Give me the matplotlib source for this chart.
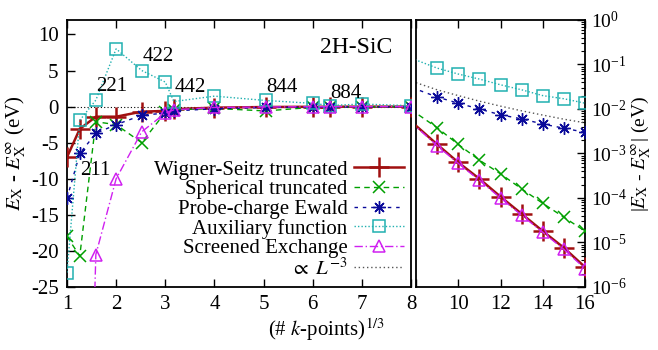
import numpy as np
import matplotlib
matplotlib.use("Agg")
import matplotlib.pyplot as plt
from matplotlib.ticker import LogLocator, NullFormatter

plt.rcParams['font.family'] = ['Liberation Serif', 'DejaVu Serif']
plt.rcParams['mathtext.fontset'] = 'stix'
plt.rcParams['axes.unicode_minus'] = False

# (# k-points)^(1/3)
kx = [1, 1.26, 1.587, 2, 2.52, 3, 3.175, 4, 5.04, 6, 6.35, 7, 8,
      9, 10, 11, 12, 13, 14, 15, 16]

wigner_seitz = [-7.0, -3.1, -1.4, -1.4, -0.7, -0.6, -0.35, -0.15, -0.06, -0.025, -0.02, -0.01,
                -0.0042, -0.0016, -6.3e-4, -2.7e-4, -1.07e-4, -4.4e-5, -1.8e-5, -7.6e-6, -2.8e-6]
spherical = [-18.0, -20.7, -2.1, -2.5, -5.0, -0.8, -0.45, -0.25, -0.6, -0.1, -0.06, -0.03,
             -0.0081, -0.0038, -0.0016, -7.1e-4, -3.5e-4, -1.6e-4, -7.6e-5, -3.7e-5, -1.8e-5]
probe_ewald = [-12.7, -6.5, -3.7, -2.5, -1.2, -0.9, -0.6, -0.3, -0.12, -0.06, -0.05, -0.04,
               -0.028, -0.0186, -0.0135, -0.010, -0.0074, -0.006, -0.0046, -0.0037, -0.003]
auxiliary = [-23.0, -1.9, 0.9, 8.0, 5.0, 3.4, 0.7, 1.45, 0.85, 0.45, 0.15, 0.35,
             0.126, 0.083, 0.061, 0.047, 0.035, 0.027, 0.020, 0.017, 0.0135]
screened = [np.nan, -100.0, -20.5, -10.0, -3.5, -0.9, -0.45, -0.12, -0.05, -0.02, -0.015, -0.01,
            -0.0040, -0.0015, -6.0e-4, -2.5e-4, -1.0e-4, -4.1e-5, -1.7e-5, -7.0e-6, -2.6e-6]

# reference line proportional to L^-3
ref_x = [8, 9, 10, 11, 12, 13, 14, 15, 16]
ref_y = [0.039, 0.027, 0.020, 0.015, 0.0116, 0.0091, 0.0073, 0.0059, 0.0049]

labels = ["Wigner-Seitz truncated", "Spherical truncated", "Probe-charge Ewald",
          "Auxiliary function", "Screened Exchange"]
mesh_labels = ["211", "221", "422", "442", "844", "884"]
mesh_pos = [(1.27, -8.8), (1.6, 2.75), (2.53, 7.0), (3.18, 2.6), (5.05, 2.6), (6.36, 1.8)]

styles = [
    dict(color='#a01010', ls='-', lw=1.8, marker='+', ms=15, mew=1.8),
    dict(color='#00a000', ls=(0, (4, 3)), lw=1.0, marker='x', ms=8, mew=1.1),
    dict(color='#0a0a9a', ls=(0, (2.5, 3.5)), lw=1.0, marker=(8, 2, 0), ms=9, mew=1.0),
    dict(color='#20b0b0', ls=(0, (1, 1.5)), lw=1.0, marker='s', ms=8, mew=1.1, mfc='none'),
    dict(color='#d020f0', ls=(0, (6, 2, 1, 2)), lw=1.0, marker='^', ms=8, mew=1.1, mfc='none'),
]
series = [wigner_seitz, spherical, probe_ewald, auxiliary, screened]
FS = 15

fig = plt.figure(figsize=(6.58, 3.5), dpi=100)
axL = fig.add_axes([67/658, 1-287/350, (411-67)/658, (287-20)/350])
axR = fig.add_axes([416/658, 1-287/350, (585-416)/658, (287-20)/350])

axL.axhline(0, color='k', ls=(0, (1, 2)), lw=0.8, zorder=1)
handles = []
right_marks = list(range(13, len(kx)))
for y, st, lab in zip(series, styles, labels):
    h, = axL.plot(kx, y, label=lab, zorder=3, **st)
    handles.append(h)
    axR.plot(kx, np.abs(np.array(y, dtype=float)), zorder=3, markevery=right_marks, **st)
href, = axR.plot(ref_x, ref_y, color='#555555', ls=(0, (1, 2)), lw=1.0,
                 label=r'$\propto$ $L^{-3}$')
handles.append(href)

axL.set_xlim(1, 8)
axL.set_ylim(-25, 12)
axL.set_xticks(range(1, 9))
axL.set_yticks(range(-25, 11, 5))
axL.tick_params(direction='in', length=6, width=1, top=True, right=False, labelsize=FS, pad=6)
for s in axL.spines.values():
    s.set_linewidth(1.3)

axR.set_xlim(8, 16)
axR.set_yscale('log')
axR.set_ylim(1e-6, 1)
axR.set_xticks([8, 10, 12, 14, 16])
axR.set_xticklabels(['', '10', '12', '14', '16'])
axR.yaxis.set_major_locator(LogLocator(base=10, numticks=10))
axR.yaxis.set_minor_locator(LogLocator(base=10, subs=np.arange(2, 10), numticks=20))
axR.yaxis.set_minor_formatter(NullFormatter())
axR.yaxis.tick_right()
axR.yaxis.set_label_position('right')
axR.tick_params(which='major', direction='in', length=6, width=1, top=True, left=False,
                labelsize=FS, pad=6)
axR.tick_params(axis='y', which='major', labelsize=14, pad=4)
axR.tick_params(which='minor', direction='in', length=3, width=0.8, left=False)
for s in axR.spines.values():
    s.set_linewidth(1.3)

for t, (px, py) in zip(mesh_labels, mesh_pos):
    axL.text(px, py, t, fontsize=FS, ha='left', va='center')
axL.text(6.15, 8.25, '2H-SiC', fontsize=17, ha='left', va='center')

axL.set_ylabel(r'$E_\mathrm{X}$ - $E_\mathrm{X}^{\infty}$ (eV)', fontsize=FS, labelpad=2)
axR.set_ylabel(r'|$E_\mathrm{X}$ - $E_\mathrm{X}^{\infty}$| (eV)', fontsize=14, labelpad=2)
fig.text(326/658, 1-330/350, r'(# $k$-points)$^{1/3}$', fontsize=FS, ha='center', va='center')

leg = axL.legend(handles=handles, loc='lower right', markerfirst=False, frameon=False,
                 fontsize=FS, handlelength=2.4, handletextpad=0.3, labelspacing=0.0,
                 borderaxespad=0.0, borderpad=0.35)

fig.savefig('out.png', dpi=100)
